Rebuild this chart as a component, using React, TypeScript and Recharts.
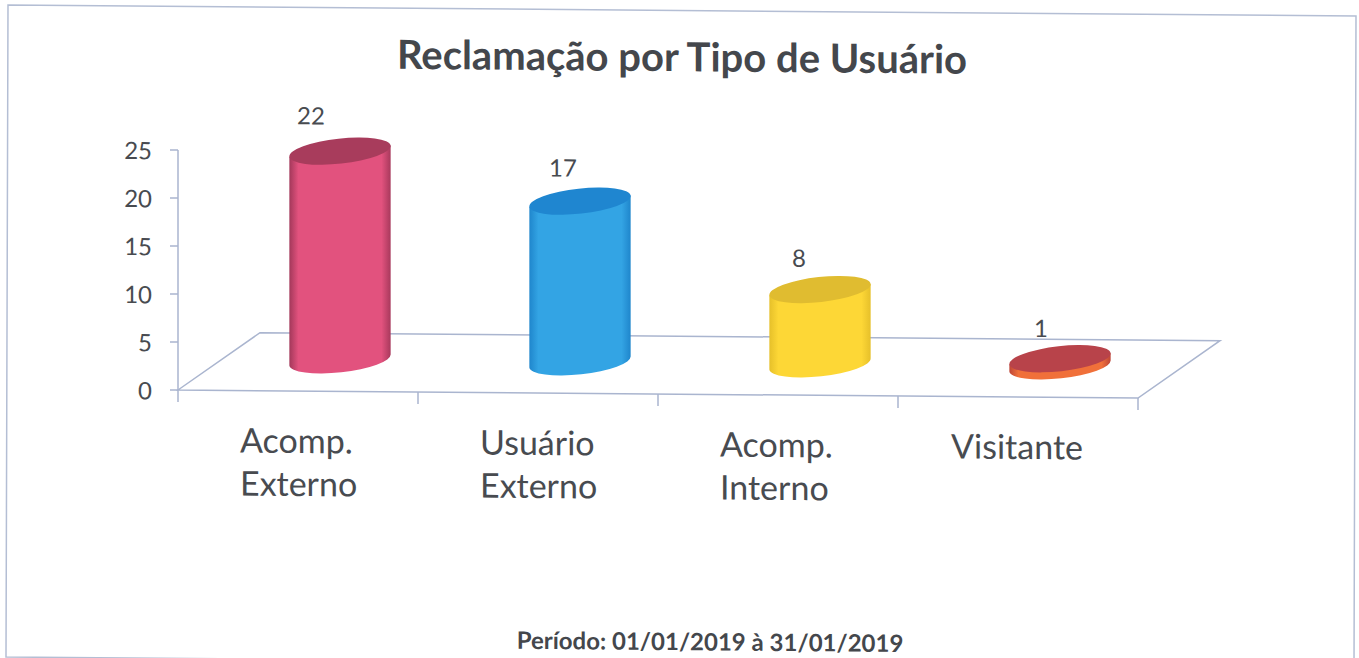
import { BarChart, Bar, XAxis, YAxis, LabelList } from 'recharts';

const categories = [['Acomp.', 'Externo'], ['Usuário', 'Externo'], ['Acomp.', 'Interno'], ['Visitante']];
const values = [22, 17, 8, 1];
const yTicks = [0, 5, 10, 15, 20, 25];

const sides = [
  ['#a3385a', '#e2527e', '#a8395c'],
  ['#1f86cc', '#33a4e4', '#1f86cc'],
  ['#e6c02a', '#fdd736', '#e6c02a'],
  ['#bd4538', '#f0703a', '#bd4538'],
];
const tops = ['#a83c5c', '#1f86d0', '#e0bc30', '#b8434a'];
// the data labels were dragged by hand in the original, so each has its own nudge
const labelNudge = [[13, -65], [25, -63], [21, -61], [23, -60]];
const tickLeft = [-58, -58, -58, -67];

const W = 1359;
const H = 658;
const PLOT = { left: 178, right: 1138, top: 150, bottom: 390 };
const DEPTH = { x: 41, y: -29 };
const AXIS = '#aab5cf';
const TEXT = '#484b50';
const FONT = 'Lato, sans-serif';

const data = categories.map((c, i) => ({ name: c.join(' '), lines: c, value: values[i] }));

function Cylinder(props: any) {
  const { x, y, width, height, index } = props;
  const cx = x + width / 2 + DEPTH.x + 1;
  const top = y + DEPTH.y;
  const bottom = y + height + DEPTH.y - 2.5;
  const rx = 51;
  const ry = 12.5;
  const dx = rx * Math.cos(0.118);
  const dy = rx * Math.sin(0.118);
  const side = `M${cx - dx} ${top + dy} L${cx - dx} ${bottom + dy} A${rx} ${ry} -6.8 0 0 ${cx + dx} ${bottom - dy} L${cx + dx} ${top - dy} Z`;
  return (
    <g>
      <path d={side} fill={`url(#side${index})`} />
      <ellipse cx={cx} cy={top} rx={rx} ry={ry} fill={tops[index]} transform={`rotate(-6.8 ${cx} ${top})`} />
    </g>
  );
}

function CategoryTick(props: any) {
  const { x, y, index } = props;
  return (
    <text x={x + tickLeft[index]} y={y + 4} fontFamily={FONT} fontSize={34} fill={TEXT}>
      {categories[index].map((line, i) => (
        <tspan key={line} x={x + tickLeft[index]} dy={i === 0 ? 0 : 43}>{line}</tspan>
      ))}
    </text>
  );
}

function ValueLabel(props: any) {
  const { x, y, width, value, index } = props;
  const [dx, dy] = labelNudge[index];
  return (
    <text x={x + width / 2 + dx} y={y + dy} textAnchor="middle" dominantBaseline="central" fontFamily={FONT} fontSize={24} fill={TEXT}>
      {value}
    </text>
  );
}

function Floor() {
  const { left, right, bottom } = PLOT;
  const d = DEPTH;
  const step = (right - left) / categories.length;
  return (
    <g stroke={AXIS} strokeWidth={1.5} fill="none">
      <path d={`M${left} ${bottom} L${left + 2 * d.x} ${bottom + 2 * d.y} L${right + 2 * d.x} ${bottom + 2 * d.y} L${right} ${bottom} Z`} />
      {[0, 1, 2, 3, 4].map((i) => (
        <line key={i} x1={left + i * step} x2={left + i * step} y1={bottom} y2={bottom + 12} />
      ))}
    </g>
  );
}

export default function App() {
  return (
    <div style={{ position: 'absolute', left: 0, top: 0, width: W, height: H, background: '#fff', overflow: 'hidden' }}>
      <svg width={W} height={H} style={{ position: 'absolute', left: 0, top: 0 }}>
        <polygon points="8,5 1356,16 1354,668 6,657" fill="none" stroke="#b4bed4" strokeWidth={1.5} />
      </svg>
      <div style={{ position: 'absolute', left: 0, top: 0, width: W, height: H, transform: 'skewY(0.477deg)', transformOrigin: `${PLOT.left}px ${PLOT.bottom}px` }}>
        <div style={{ position: 'absolute', left: 0, width: 1364, top: 29, textAlign: 'center', fontFamily: FONT, fontWeight: 700, fontSize: 40, lineHeight: '46px', color: '#44474c' }}>
          Reclamação por Tipo de Usuário
        </div>
        <div style={{ position: 'absolute', left: 0, width: 1420, top: 623, textAlign: 'center', fontFamily: FONT, fontWeight: 700, fontSize: 24, lineHeight: '28px', color: '#44474c' }}>
          Período: 01/01/2019 à 31/01/2019
        </div>
        <BarChart
          width={W}
          height={H}
          data={data}
          barSize={100}
          style={{ position: 'absolute', left: 0, top: 0 }}
          margin={{ left: PLOT.left - 60, right: W - PLOT.right, top: PLOT.top, bottom: H - PLOT.bottom - 60 }}
        >
          <defs>
            {sides.map((s, i) => (
              <linearGradient key={i} id={`side${i}`} x1="0" x2="1" y1="0" y2="0">
                <stop offset="0" stopColor={s[0]} />
                <stop offset="0.09" stopColor={s[1]} />
                <stop offset="0.91" stopColor={s[1]} />
                <stop offset="1" stopColor={s[2]} />
              </linearGradient>
            ))}
          </defs>
          <Floor />
          <XAxis dataKey="name" height={60} axisLine={false} tickLine={false} interval={0} tick={<CategoryTick />} tickMargin={52} />
          <YAxis
            width={60}
            domain={[0, 25]}
            ticks={yTicks}
            interval={0}
            axisLine={{ stroke: AXIS, strokeWidth: 1.5 }}
            tickLine={{ stroke: AXIS, strokeWidth: 1.5 }}
            tickSize={8}
            tickMargin={18}
            tick={{ fontFamily: FONT, fontSize: 24, fill: TEXT, dy: 1 }}
          />
          <Bar dataKey="value" isAnimationActive={false} shape={<Cylinder />}>
            <LabelList dataKey="value" content={<ValueLabel />} />
          </Bar>
        </BarChart>
      </div>
    </div>
  );
}
